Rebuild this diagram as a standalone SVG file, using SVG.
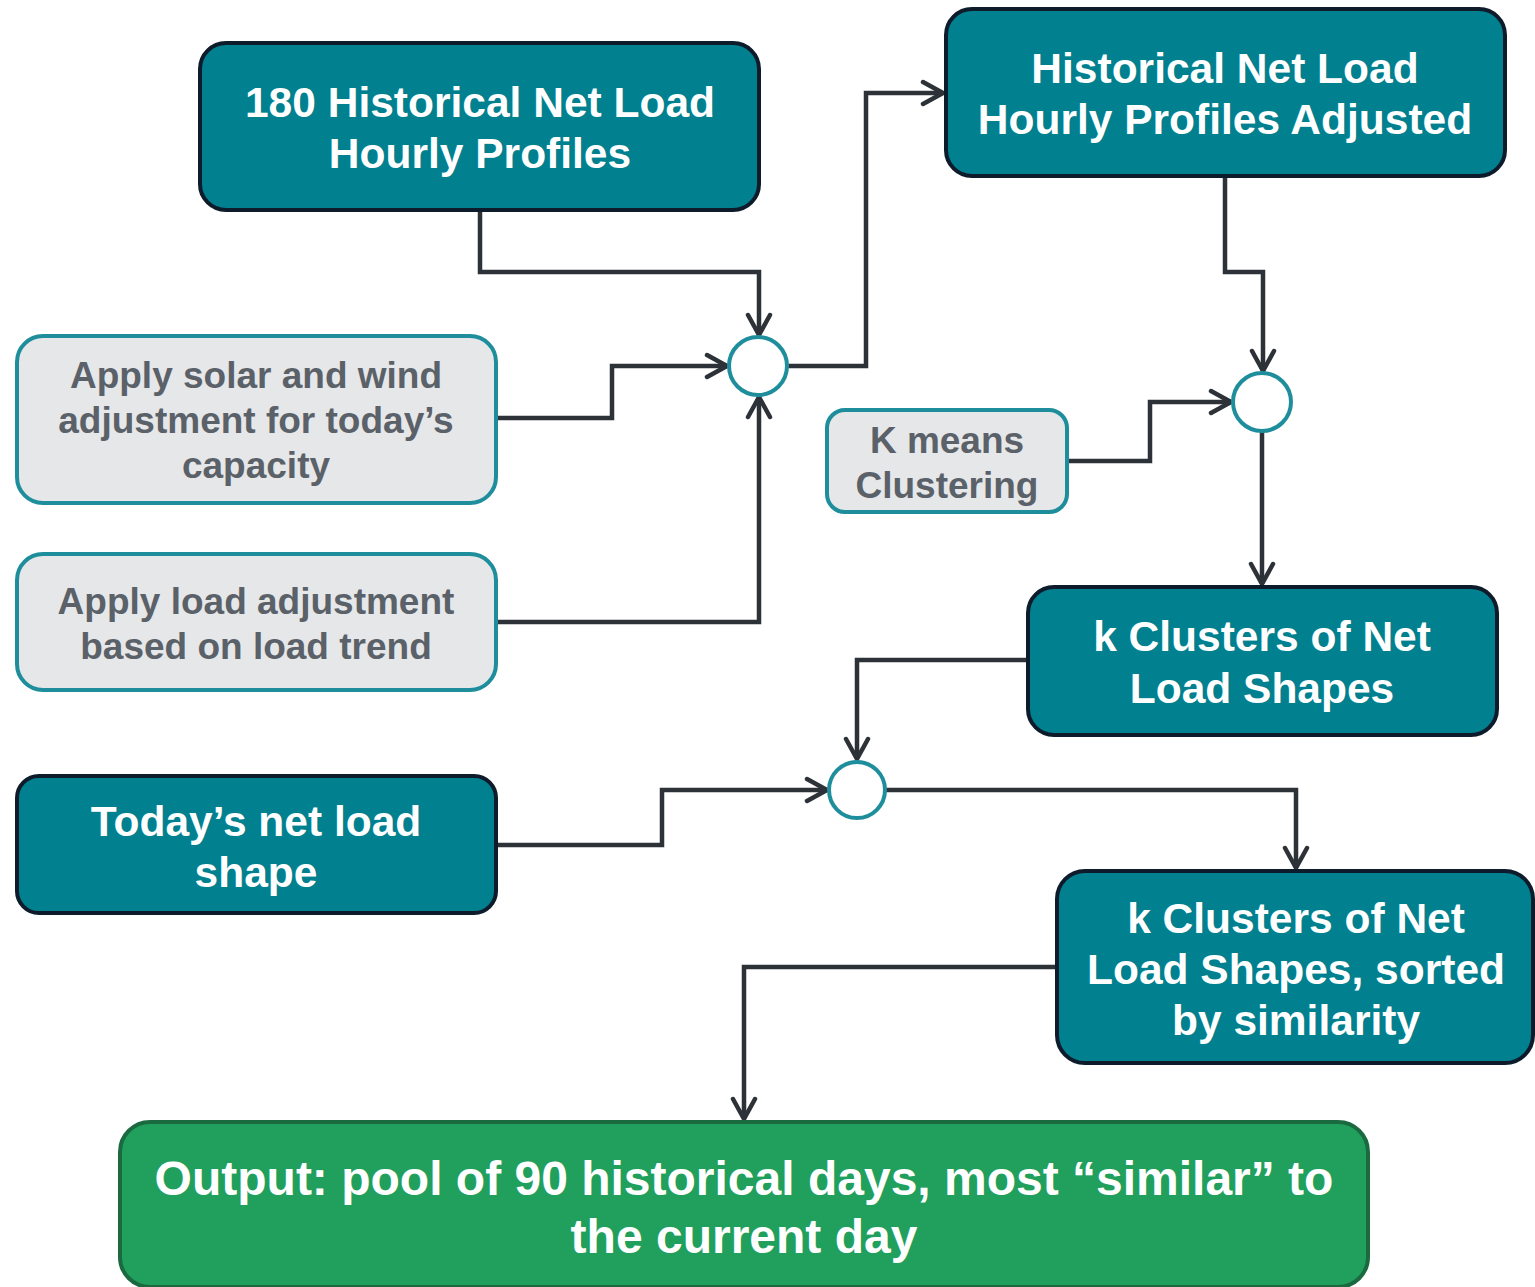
<svg xmlns="http://www.w3.org/2000/svg" width="1535" height="1287" viewBox="0 0 1535 1287">
  <style>
    .dark { fill: #01808f; stroke: #0d1b2a; stroke-width: 4; }
    .light { fill: #e6e7e9; stroke: #1f8e9c; stroke-width: 4; }
    .out { fill: #219f5d; stroke: #1b6a3f; stroke-width: 4; }
    .junc { fill: #ffffff; stroke: #1f8e9c; stroke-width: 4; }
    .tw { font-family: "Liberation Sans", Arial, sans-serif; font-weight: bold; fill: #ffffff; text-anchor: middle; }
    .tg { font-family: "Liberation Sans", Arial, sans-serif; font-weight: bold; fill: #5b6168; text-anchor: middle; }
    .wire { fill: none; stroke: #2d3238; stroke-width: 4.5; marker-end: url(#chev); }
  </style>
  <defs>
    <marker id="chev" viewBox="0 0 28 28" refX="25" refY="14" markerWidth="28" markerHeight="28" markerUnits="userSpaceOnUse" orient="auto">
      <polyline points="5,3 25,14 5,25" fill="none" stroke="#2d3238" stroke-width="4.5" stroke-linecap="round" stroke-linejoin="round"/>
    </marker>
  </defs>

  <!-- connectors -->
  <g id="connectors">
    <polyline class="wire" points="480,210 480,272 759,272 759,335"/>
    <polyline class="wire" points="496,418 612,418 612,366 727,366"/>
    <polyline class="wire" points="496,622 759,622 759,397"/>
    <polyline class="wire" points="787,366 866,366 866,93 943,93"/>
    <polyline class="wire" points="1225,176 1225,272 1263,272 1263,371"/>
    <polyline class="wire" points="1067,461 1150,461 1150,402 1231,402"/>
    <polyline class="wire" points="1262,432 1262,584"/>
    <polyline class="wire" points="1028,660 857,660 857,759"/>
    <polyline class="wire" points="496,845 662,845 662,790 827,790"/>
    <polyline class="wire" points="886,790 1296,790 1296,868"/>
    <polyline class="wire" points="1057,967 744,967 744,1119"/>
  </g>

  <!-- junction circles -->
  <g id="junction1"><circle class="junc" cx="758" cy="366" r="29"/></g>
  <g id="junction2"><circle class="junc" cx="1262" cy="402" r="29"/></g>
  <g id="junction3"><circle class="junc" cx="857" cy="790" r="28"/></g>

  <g id="historical">
    <rect class="dark" x="200" y="43" width="559" height="167" rx="26"/>
    <text class="tw" font-size="42.5" x="480" y="117">180 Historical Net Load</text>
    <text class="tw" font-size="42.5" x="480" y="168">Hourly Profiles</text>
  </g>

  <g id="adjusted">
    <rect class="dark" x="946" y="9" width="559" height="167" rx="26"/>
    <text class="tw" font-size="42.5" x="1225" y="83">Historical Net Load</text>
    <text class="tw" font-size="42.5" x="1225" y="134">Hourly Profiles Adjusted</text>
  </g>

  <g id="solar-wind">
    <rect class="light" x="17" y="336" width="479" height="167" rx="26"/>
    <text class="tg" font-size="37" x="256" y="388">Apply solar and wind</text>
    <text class="tg" font-size="37" x="256" y="433">adjustment for today’s</text>
    <text class="tg" font-size="37" x="256" y="478">capacity</text>
  </g>

  <g id="load-trend">
    <rect class="light" x="17" y="554" width="479" height="136" rx="26"/>
    <text class="tg" font-size="37" x="256" y="614">Apply load adjustment</text>
    <text class="tg" font-size="37" x="256" y="659">based on load trend</text>
  </g>

  <g id="kmeans">
    <rect class="light" x="827" y="410" width="240" height="102" rx="18"/>
    <text class="tg" font-size="37" x="947" y="453">K means</text>
    <text class="tg" font-size="37" x="947" y="498">Clustering</text>
  </g>

  <g id="clusters">
    <rect class="dark" x="1028" y="587" width="469" height="148" rx="26"/>
    <text class="tw" font-size="42.5" x="1262" y="651">k Clusters of Net</text>
    <text class="tw" font-size="42.5" x="1262" y="703">Load Shapes</text>
  </g>

  <g id="today">
    <rect class="dark" x="17" y="776" width="479" height="137" rx="22"/>
    <text class="tw" font-size="42.5" x="256" y="836">Today’s net load</text>
    <text class="tw" font-size="42.5" x="256" y="887">shape</text>
  </g>

  <g id="sorted">
    <rect class="dark" x="1057" y="871" width="476" height="192" rx="28"/>
    <text class="tw" font-size="42.5" x="1296" y="933">k Clusters of Net</text>
    <text class="tw" font-size="42.5" x="1296" y="984">Load Shapes, sorted</text>
    <text class="tw" font-size="42.5" x="1296" y="1035">by similarity</text>
  </g>

  <g id="output">
    <rect class="out" x="120" y="1122" width="1248" height="165" rx="30"/>
    <text class="tw" font-size="48" x="744" y="1195">Output: pool of 90 historical days, most “similar” to</text>
    <text class="tw" font-size="48" x="744" y="1253">the current day</text>
  </g>
</svg>
